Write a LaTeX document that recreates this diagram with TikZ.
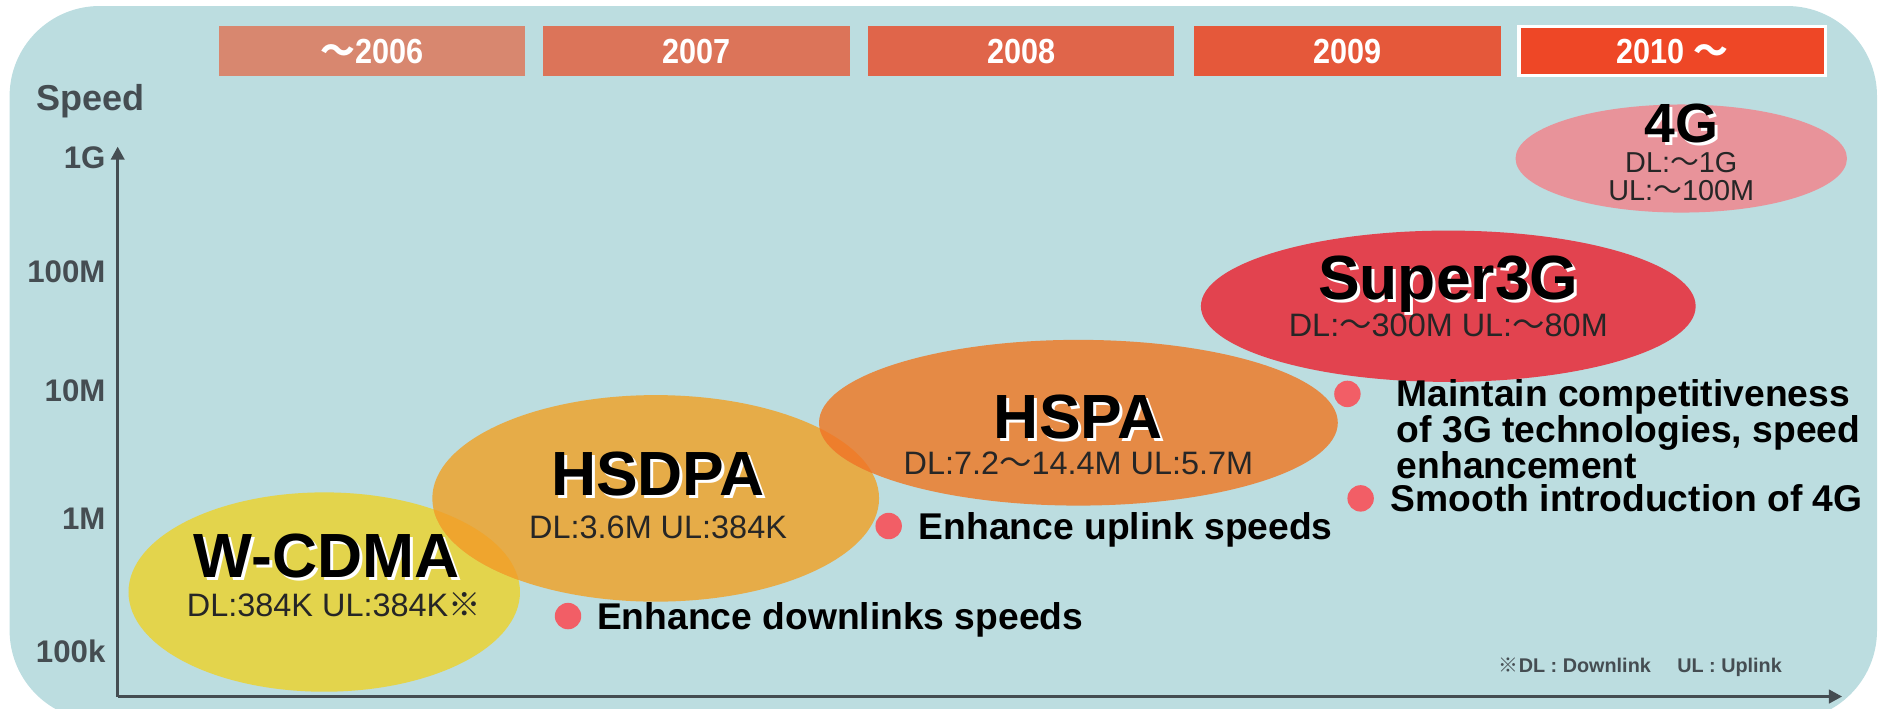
\documentclass[tikz,border=0pt]{standalone}
\usepackage{fontspec}
\setmainfont{Liberation Sans}
\newfontfamily\cjk{Noto Sans CJK JP}
\newfontfamily\yearfont{Liberation Sans}[FakeStretch=0.88]
\usetikzlibrary{shapes.geometric,arrows.meta}
\definecolor{bgc}{HTML}{BCDDE0}
\definecolor{yA}{HTML}{D8876F}
\definecolor{yB}{HTML}{DC7459}
\definecolor{yC}{HTML}{E0654A}
\definecolor{yD}{HTML}{E5583A}
\definecolor{yE}{HTML}{EE4726}
\definecolor{wcdmac}{HTML}{E3D44C}
\definecolor{hsdpac}{HTML}{E6AC48}
\definecolor{ovA}{HTML}{EFA52E}
\definecolor{hspac}{HTML}{E58A45}
\definecolor{ovB}{HTML}{EE7E2C}
\definecolor{sthreec}{HTML}{E2434F}
\definecolor{fourc}{HTML}{E8939A}
\definecolor{dotc}{HTML}{F25E66}
\definecolor{axc}{HTML}{454D52}
\newcommand\shtext[1]{\makebox[0pt][l]{\hspace{2.5pt}\raisebox{-2.5pt}{\color{white}#1}}#1}
\tikzset{
  yearbox/.style={minimum width=255pt,minimum height=41pt,inner sep=0pt,text=white,font=\yearfont\bfseries\fontsize{29}{29}\selectfont},
  blob/.style={ellipse,inner sep=0pt},
  ttl/.style={anchor=base,inner sep=0pt,font=\bfseries\fontsize{52}{52}\selectfont,text=black},
  sub/.style={anchor=base,inner sep=0pt,font=\fontsize{27}{27}\selectfont,text=black!85},
  ylab/.style={anchor=base east,inner sep=0pt,font=\bfseries\fontsize{26}{26}\selectfont,text=axc},
  bullet/.style={circle,fill=dotc,minimum size=22pt,inner sep=0pt},
  btext/.style={anchor=base west,inner sep=0pt,font=\bfseries\fontsize{31}{28.5}\selectfont,text=black,align=left},
  axis/.style={draw=axc,line width=3pt,-{Triangle[length=11pt,width=11pt]}}
}
\begin{document}
\begin{tikzpicture}[x=1pt,y=-1pt]
\useasboundingbox (0,0) rectangle (1568,590);
\fill[bgc,rounded corners=75pt] (8,5) rectangle (1563,600);

% year boxes
\node[yearbox,fill=yA] (y06) at (309.5,42.5) {{\cjk 〜}2006};
\node[yearbox,fill=yB] (y07) at (580,42.5) {2007};
\node[yearbox,fill=yC] (y08) at (850.5,42.5) {2008};
\node[yearbox,fill=yD] (y09) at (1122,42.5) {2009};
\node[yearbox,fill=yE,draw=white,line width=3pt] (y10) at (1392.5,42.5) {2010 {\cjk 〜}};

% axis labels
\node[anchor=base west,inner sep=0pt,font=\bfseries\fontsize{30}{30}\selectfont,text=axc] (speed) at (30,92) {Speed};
\node[ylab] (l1g) at (88,140) {1G};
\node[ylab] (l100m) at (88,235) {100M};
\node[ylab] (l10m) at (88,334) {10M};
\node[ylab] (l1m) at (88,441) {1M};
\node[ylab] (l100k) at (88,552) {100k};

% axes
\coordinate (origin) at (98,580);
\coordinate (ytop) at (98,122);
\coordinate (xend) at (1534,580);
\draw[axis] (origin) -- (ytop);
\draw[axis] (origin) -- (xend);

% ellipses
\node[blob,fill=wcdmac,minimum width=326pt,minimum height=166pt] (wcdma) at (270,493) {};
\node[blob,fill=hsdpac,minimum width=372pt,minimum height=172pt] (hsdpa) at (546,415) {};
\begin{scope}
  \clip (270,493) ellipse [x radius=163,y radius=83];
  \fill[ovA] (546,415) ellipse [x radius=186,y radius=86];
\end{scope}
\node[blob,fill=hspac,minimum width=432pt,minimum height=138pt] (hspa) at (898,352) {};
\begin{scope}
  \clip (546,415) ellipse [x radius=186,y radius=86];
  \fill[ovB] (898,352) ellipse [x radius=216,y radius=69];
\end{scope}
\node[blob,fill=sthreec,minimum width=412pt,minimum height=126pt] (s3g) at (1206,255) {};
\node[blob,fill=fourc,minimum width=276pt,minimum height=90pt] (g4) at (1400,132) {};

% titles
\node[ttl] (wcdmat) at (272,481) {\shtext{W-CDMA}};
\node[sub] (wcdmas) at (278,513) {DL:384K UL:384K{\cjk ※}};

\node[ttl] (hsdpat) at (548,413) {\shtext{HSDPA}};
\node[sub] (hsdpas) at (548,448) {DL:3.6M UL:384K};

\node[ttl] (hspat) at (898,365) {\shtext{HSPA}};
\node[sub] (hspas) at (898,395) {DL:7.2{\cjk 〜}14.4M UL:5.7M};

\node[ttl] (s3gt) at (1206,249) {\shtext{Super3G}};
\node[sub] (s3gs) at (1206,280) {DL:{\cjk 〜}300M UL:{\cjk 〜}80M};

\node[ttl,font=\bfseries\fontsize{46}{46}\selectfont] (g4t) at (1400,119) {\shtext{4G}};
\node[sub,font=\fontsize{24}{24}\selectfont] (g4s1) at (1400,144) {DL:{\cjk 〜}1G};
\node[sub,font=\fontsize{24}{24}\selectfont] (g4s2) at (1400,167) {UL:{\cjk 〜}100M};

% bullets
\node[bullet] (b1) at (473,513) {};
\node[btext] (t1) at (497,524) {Enhance downlinks speeds};
\node[bullet] (b2) at (740,438) {};
\node[btext] (t2) at (765,449) {Enhance uplink speeds};
\node[bullet] (b3) at (1122,328) {};
\node[btext,anchor=north west] (t3) at (1163,316) {Maintain competitiveness\\of 3G technologies, speed\\enhancement};
\node[bullet] (b4) at (1133,415) {};
\node[btext] (t4) at (1158,426) {Smooth introduction of 4G};

% footnote
\node[anchor=base west,inner sep=0pt,font=\bfseries\fontsize{16.5}{16.5}\selectfont,text=axc] (note) at (1248,560) {{\cjk ※}DL : Downlink\hspace{22pt}UL : Uplink};
\end{tikzpicture}
\end{document}
